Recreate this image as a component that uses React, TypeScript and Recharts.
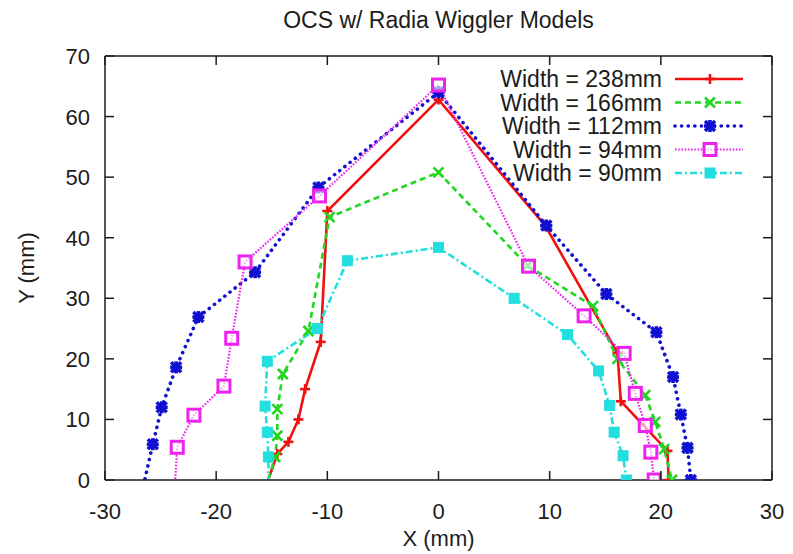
import { Legend, Line, LineChart, XAxis, YAxis } from "recharts";

const FONT = '"Liberation Sans", Arial, Helvetica, sans-serif';
const INK = "#1c1c1c";

const X_TICKS = [-30, -20, -10, 0, 10, 20, 30];
const Y_TICKS = [0, 10, 20, 30, 40, 50, 60, 70];

// points run from the lower-left end, over the top, to the lower-right end
const w238X = [-15.9, -14.5, -13.5, -12.6, -12.0, -10.6, -10.0, 0, 9.6, 16.1, 16.4, 20.6, 20.7];
const w238Y = [-3, 4.3, 6.3, 10.0, 15.0, 22.8, 44.4, 62.8, 42.0, 21.0, 13.0, 4.8, 0];

const w166X = [-15.8, -14.7, -14.5, -14.5, -14.0, -11.7, -9.8, 0, 8.0, 13.9, 16.1, 18.6, 19.5, 20.3, 21.0];
const w166Y = [-3, 3.8, 7.3, 11.7, 17.5, 24.6, 43.4, 50.8, 35.4, 28.7, 20.0, 14.0, 9.6, 5.1, 0];

const w112X = [-26.8, -25.7, -24.9, -23.6, -21.6, -16.5, -10.8, 0, 9.7, 15.1, 19.6, 21.1, 21.8, 22.4, 22.7];
const w112Y = [-3, 5.9, 12.0, 18.6, 26.9, 34.3, 48.3, 64.0, 42.0, 30.7, 24.4, 17.0, 10.8, 5.3, 0];

const w94X = [-23.8, -23.5, -22.0, -19.3, -18.6, -17.4, -10.7, 0, 8.1, 13.1, 16.7, 17.7, 18.6, 19.1, 19.4];
const w94Y = [-3, 5.4, 10.7, 15.5, 23.4, 36.0, 46.9, 65.2, 35.3, 27.1, 20.9, 14.3, 9.0, 4.6, 0];

const w90X = [-15.3, -15.3, -15.4, -15.6, -15.4, -10.9, -8.2, 0, 6.8, 11.6, 14.4, 15.4, 15.8, 16.6, 16.9];
const w90Y = [-3, 3.8, 7.9, 12.2, 19.6, 25.0, 36.2, 38.4, 30.0, 24.0, 18.0, 12.3, 7.9, 4.0, 0];

type MarkerKind = "plus" | "cross" | "star" | "box" | "fbox";

const SERIES: {
  name: string;
  xs: number[];
  ys: number[];
  color: string;
  dash?: string;
  width: number;
  cap?: "round" | "butt";
  marker: MarkerKind;
}[] = [
  { name: "Width = 238mm", xs: w238X, ys: w238Y, color: "#f01010", width: 2.6, marker: "plus" },
  { name: "Width = 166mm", xs: w166X, ys: w166Y, color: "#22d622", dash: "6 4", width: 2.6, marker: "cross" },
  { name: "Width = 112mm", xs: w112X, ys: w112Y, color: "#1010d0", dash: "0.1 6.5", width: 3.6, cap: "round", marker: "star" },
  { name: "Width = 94mm", xs: w94X, ys: w94Y, color: "#ee22ee", dash: "1.6 1.6", width: 2.2, marker: "box" },
  { name: "Width = 90mm", xs: w90X, ys: w90Y, color: "#22dede", dash: "7 3 2 3", width: 2.6, marker: "fbox" },
];

function Marker({ kind, cx, cy, color }: { kind: MarkerKind; cx: number; cy: number; color: string }) {
  if (kind === "plus") {
    return (
      <g stroke={color} strokeWidth={2.6}>
        <line x1={cx - 5} x2={cx + 5} y1={cy} y2={cy} />
        <line x1={cx} x2={cx} y1={cy - 5} y2={cy + 5} />
      </g>
    );
  }
  if (kind === "cross") {
    return (
      <g stroke={color} strokeWidth={2.6}>
        <line x1={cx - 5} x2={cx + 5} y1={cy - 5} y2={cy + 5} />
        <line x1={cx - 5} x2={cx + 5} y1={cy + 5} y2={cy - 5} />
      </g>
    );
  }
  if (kind === "star") {
    return (
      <g stroke={color} strokeWidth={3.6}>
        <line x1={cx - 6} x2={cx + 6} y1={cy} y2={cy} />
        <line x1={cx} x2={cx} y1={cy - 6} y2={cy + 6} />
        <line x1={cx - 5} x2={cx + 5} y1={cy - 5} y2={cy + 5} />
        <line x1={cx - 5} x2={cx + 5} y1={cy + 5} y2={cy - 5} />
      </g>
    );
  }
  if (kind === "box") {
    return <rect x={cx - 6} y={cy - 6} width={12} height={12} fill="#ffffff" fillOpacity={0.6} stroke={color} strokeWidth={3} />;
  }
  return <rect x={cx - 5} y={cy - 5} width={10} height={10} fill={color} stroke={color} strokeWidth={1} />;
}

function BottomTick(props: any) {
  const { x, y, payload } = props;
  return (
    <g>
      <line x1={x} x2={x} y1={y} y2={y - 9} stroke={INK} strokeWidth={1.5} />
      <text x={x} y={y + 39} textAnchor="middle" fontSize={22} fontFamily={FONT} fill={INK}>
        {payload.value}
      </text>
    </g>
  );
}

function TopTick(props: any) {
  const { x, y } = props;
  return <line x1={x} x2={x} y1={y} y2={y + 9} stroke={INK} strokeWidth={1.5} />;
}

function LeftTick(props: any) {
  const { x, y, payload } = props;
  return (
    <g>
      <line x1={x} x2={x + 9} y1={y} y2={y} stroke={INK} strokeWidth={1.5} />
      <text x={x - 15} y={y + 8} textAnchor="end" fontSize={22} fontFamily={FONT} fill={INK}>
        {payload.value}
      </text>
    </g>
  );
}

function RightTick(props: any) {
  const { x, y } = props;
  return <line x1={x} x2={x - 9} y1={y} y2={y} stroke={INK} strokeWidth={1.5} />;
}

function LegendBox() {
  return (
    <svg width={290} height={120} style={{ overflow: "visible" }}>
      {SERIES.map((s, i) => {
        const cy = 12 + i * 23.5;
        return (
          <g key={s.name}>
            <text x={182} y={cy + 8} textAnchor="end" fontSize={23} fontFamily={FONT} fill={INK}>
              {s.name}
            </text>
            <line
              x1={195}
              x2={263}
              y1={cy}
              y2={cy}
              stroke={s.color}
              strokeWidth={s.width}
              strokeDasharray={s.dash}
              strokeLinecap={s.cap ?? "butt"}
            />
            <Marker kind={s.marker} cx={230} cy={cy} color={s.color} />
          </g>
        );
      })}
    </svg>
  );
}

export default function App() {
  const frameData = w238X.map((x, i) => ({ x, y: w238Y[i] }));
  return (
    <div style={{ position: "absolute", left: 0, top: 0, width: 793, height: 554, background: "#fff" }}>
      <LineChart width={793} height={554} margin={{ top: 55, right: 20, bottom: 0, left: 0 }}>
        <XAxis
          xAxisId="top"
          orientation="top"
          type="number"
          dataKey="x"
          domain={[-30, 30]}
          ticks={X_TICKS}
          allowDataOverflow
          height={1}
          tickSize={0}
          tickMargin={0}
          tick={<TopTick />}
          stroke={INK}
          strokeWidth={1.5}
          label={{
            content: (p: any) => (
              <text x={p.viewBox.x + p.viewBox.width / 2} y={28} textAnchor="middle" fontSize={23} fontFamily={FONT} fill={INK}>
                OCS w/ Radia Wiggler Models
              </text>
            ),
          }}
        />
        <XAxis
          type="number"
          dataKey="x"
          domain={[-30, 30]}
          ticks={X_TICKS}
          height={74}
          tickSize={0}
          tickMargin={0}
          tick={<BottomTick />}
          stroke={INK}
          strokeWidth={1.5}
          label={{
            content: (p: any) => (
              <text x={p.viewBox.x + p.viewBox.width / 2} y={p.viewBox.y + 66} textAnchor="middle" fontSize={22} fontFamily={FONT} fill={INK}>
                X (mm)
              </text>
            ),
          }}
        />
        <YAxis
          type="number"
          domain={[0, 70]}
          ticks={Y_TICKS}
          allowDataOverflow
          width={105}
          tickSize={0}
          tickMargin={0}
          tick={<LeftTick />}
          stroke={INK}
          strokeWidth={1.5}
          label={{
            content: (p: any) => {
              const cx = p.viewBox.x + 26;
              const cy = p.viewBox.y + p.viewBox.height / 2;
              return (
                <text x={cx} y={cy} transform={`rotate(-90 ${cx} ${cy})`} textAnchor="middle" dominantBaseline="central" fontSize={22} fontFamily={FONT} fill={INK}>
                  Y (mm)
                </text>
              );
            },
          }}
        />
        <YAxis
          yAxisId="right"
          orientation="right"
          type="number"
          domain={[0, 70]}
          ticks={Y_TICKS}
          allowDataOverflow
          width={1}
          tickSize={0}
          tickMargin={0}
          tick={<RightTick />}
          stroke={INK}
          strokeWidth={1.5}
        />
        <Legend
          layout="vertical"
          align="center"
          verticalAlign="middle"
          content={() => <LegendBox />}
          wrapperStyle={{ top: 67, left: 480, width: 290, height: 120 }}
        />
        {/* invisible series so the mirrored top/right axes get drawn */}
        <Line
          xAxisId="top"
          yAxisId="right"
          data={frameData}
          dataKey="y"
          stroke="none"
          dot={false}
          activeDot={false}
          legendType="none"
          isAnimationActive={false}
        />
        {SERIES.map((s) => (
          <Line
            key={s.name}
            name={s.name}
            data={s.xs.map((x, i) => ({ x, y: s.ys[i] }))}
            dataKey="y"
            type="linear"
            stroke={s.color}
            strokeWidth={s.width}
            strokeDasharray={s.dash}
            strokeLinecap={s.cap ?? "butt"}
            isAnimationActive={false}
            legendType="none"
            dot={(p: any) =>
              p.payload.y < 0 ? (
                <g key={`d${p.index}`} />
              ) : (
                <g key={`d${p.index}`}>
                  <Marker kind={s.marker} cx={p.cx} cy={p.cy} color={s.color} />
                </g>
              )
            }
            activeDot={false}
          />
        ))}
      </LineChart>
    </div>
  );
}
